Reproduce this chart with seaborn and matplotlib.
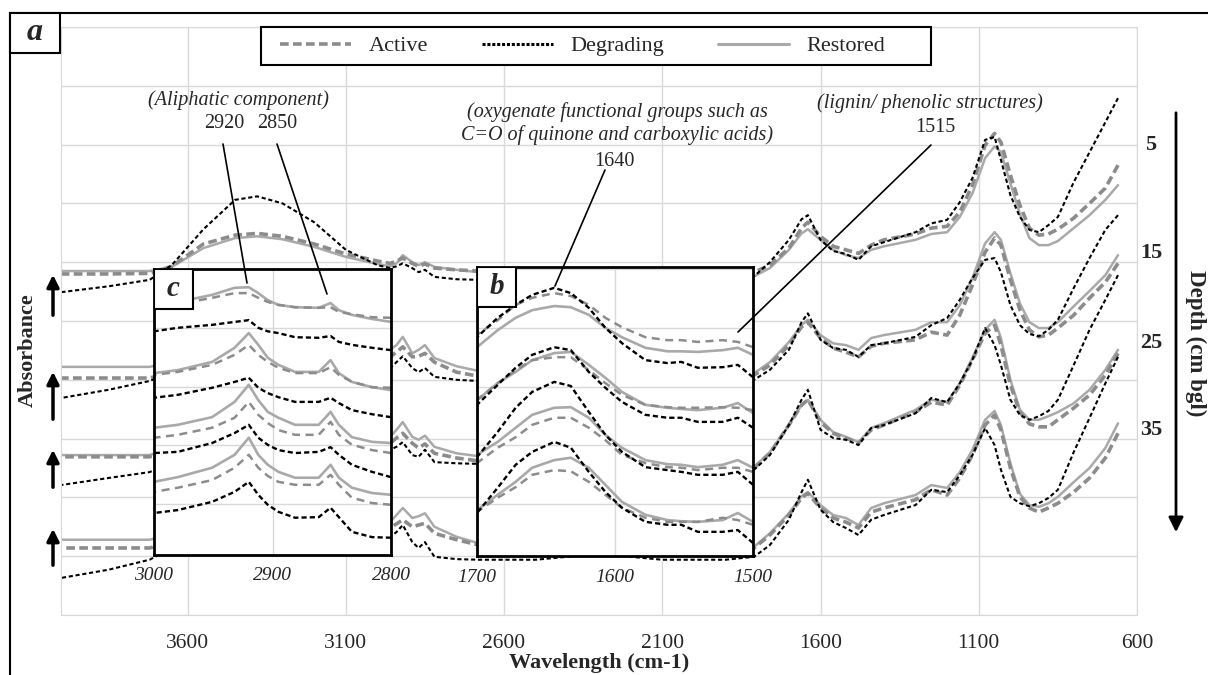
#FTIR spectra by land condition and depth, with zoomed insets
import numpy as np
import pandas as pd
import matplotlib.pyplot as plt
import seaborn as sns
from matplotlib.lines import Line2D
from matplotlib.patches import Rectangle, FancyArrowPatch

#Main spectrum (4000-660 cm-1), stacked by depth
wn_main = [4000, 3850, 3720, 3650, 3550, 3450, 3380, 3300, 3200, 3100,
           3000, 2960, 2940, 2920, 2890, 2870, 2850, 2820, 2750, 2680,
           2500, 2300, 2100, 1900, 1810, 1760, 1700, 1660, 1640, 1600,
           1560, 1520, 1480, 1440, 1400, 1300, 1250, 1200, 1160, 1120,
           1080, 1050, 1030, 1000, 970, 940, 910, 880, 850, 800,
           750, 700, 660]

main_5_active = [0.580, 0.580, 0.581, 0.593, 0.631, 0.646, 0.649, 0.644, 0.631, 0.614,
                 0.602, 0.598, 0.602, 0.607, 0.598, 0.593, 0.597, 0.590, 0.587, 0.585,
                 0.585, 0.585, 0.585, 0.585, 0.583, 0.595, 0.624, 0.658, 0.668, 0.644,
                 0.627, 0.621, 0.615, 0.629, 0.638, 0.648, 0.658, 0.661, 0.685, 0.731,
                 0.799, 0.819, 0.804, 0.748, 0.697, 0.658, 0.646, 0.648, 0.656, 0.675,
                 0.700, 0.726, 0.765]
main_5_degrading = [0.549, 0.559, 0.570, 0.595, 0.656, 0.706, 0.712, 0.700, 0.668, 0.621,
                    0.595, 0.590, 0.593, 0.598, 0.590, 0.583, 0.587, 0.575, 0.571, 0.570,
                    0.570, 0.570, 0.570, 0.573, 0.576, 0.600, 0.638, 0.673, 0.680, 0.638,
                    0.619, 0.614, 0.604, 0.627, 0.634, 0.651, 0.666, 0.672, 0.702, 0.743,
                    0.808, 0.813, 0.774, 0.714, 0.677, 0.655, 0.651, 0.663, 0.677, 0.736,
                    0.787, 0.838, 0.879]
main_5_restored = [0.585, 0.585, 0.585, 0.592, 0.624, 0.641, 0.644, 0.639, 0.626, 0.609,
                   0.597, 0.593, 0.598, 0.612, 0.600, 0.595, 0.600, 0.592, 0.587, 0.583,
                   0.583, 0.583, 0.583, 0.583, 0.576, 0.590, 0.621, 0.649, 0.656, 0.638,
                   0.621, 0.612, 0.607, 0.621, 0.627, 0.638, 0.648, 0.651, 0.677, 0.717,
                   0.777, 0.797, 0.787, 0.734, 0.682, 0.641, 0.629, 0.629, 0.636, 0.658,
                   0.680, 0.706, 0.731]

main_15_active = [0.403, 0.403, 0.403, 0.413, 0.447, 0.464, 0.468, 0.462, 0.451, 0.440,
                  0.437, 0.439, 0.447, 0.456, 0.439, 0.440, 0.445, 0.430, 0.413, 0.406,
                  0.406, 0.406, 0.406, 0.406, 0.408, 0.425, 0.459, 0.490, 0.498, 0.471,
                  0.454, 0.447, 0.439, 0.457, 0.462, 0.468, 0.481, 0.476, 0.510, 0.561,
                  0.617, 0.641, 0.629, 0.570, 0.519, 0.485, 0.473, 0.476, 0.488, 0.510,
                  0.539, 0.566, 0.598]
main_15_degrading = [0.369, 0.383, 0.398, 0.413, 0.459, 0.498, 0.505, 0.495, 0.468, 0.437,
                     0.423, 0.420, 0.430, 0.440, 0.420, 0.413, 0.420, 0.405, 0.400, 0.398,
                     0.398, 0.398, 0.398, 0.398, 0.400, 0.417, 0.451, 0.498, 0.513, 0.468,
                     0.454, 0.451, 0.439, 0.459, 0.462, 0.473, 0.493, 0.505, 0.536, 0.573,
                     0.604, 0.607, 0.583, 0.527, 0.493, 0.478, 0.474, 0.485, 0.502, 0.556,
                     0.607, 0.655, 0.680]
main_15_restored = [0.422, 0.422, 0.422, 0.430, 0.459, 0.476, 0.479, 0.474, 0.462, 0.451,
                    0.447, 0.451, 0.459, 0.473, 0.445, 0.451, 0.459, 0.437, 0.423, 0.415,
                    0.415, 0.415, 0.415, 0.415, 0.411, 0.430, 0.464, 0.493, 0.502, 0.476,
                    0.462, 0.459, 0.451, 0.471, 0.476, 0.485, 0.498, 0.498, 0.527, 0.573,
                    0.632, 0.651, 0.638, 0.581, 0.530, 0.498, 0.488, 0.488, 0.498, 0.525,
                    0.551, 0.578, 0.612]

main_25_active = [0.269, 0.269, 0.269, 0.281, 0.315, 0.332, 0.335, 0.330, 0.318, 0.304,
                  0.298, 0.292, 0.301, 0.309, 0.292, 0.284, 0.291, 0.275, 0.267, 0.262,
                  0.257, 0.257, 0.257, 0.257, 0.250, 0.275, 0.323, 0.357, 0.366, 0.328,
                  0.309, 0.301, 0.292, 0.315, 0.323, 0.345, 0.362, 0.357, 0.391, 0.434,
                  0.479, 0.493, 0.459, 0.391, 0.345, 0.325, 0.320, 0.320, 0.332, 0.352,
                  0.374, 0.408, 0.445]
main_25_degrading = [0.221, 0.233, 0.243, 0.260, 0.306, 0.345, 0.352, 0.342, 0.315, 0.289,
                     0.277, 0.281, 0.286, 0.294, 0.272, 0.269, 0.281, 0.260, 0.258, 0.257,
                     0.253, 0.253, 0.253, 0.253, 0.247, 0.272, 0.323, 0.366, 0.383, 0.315,
                     0.301, 0.298, 0.289, 0.318, 0.323, 0.343, 0.369, 0.362, 0.394, 0.434,
                     0.488, 0.459, 0.425, 0.366, 0.340, 0.332, 0.338, 0.347, 0.366, 0.425,
                     0.485, 0.536, 0.578]
main_25_restored = [0.272, 0.272, 0.272, 0.284, 0.318, 0.335, 0.338, 0.333, 0.321, 0.309,
                    0.304, 0.303, 0.315, 0.328, 0.303, 0.298, 0.305, 0.286, 0.275, 0.270,
                    0.264, 0.264, 0.264, 0.264, 0.252, 0.277, 0.323, 0.357, 0.366, 0.332,
                    0.311, 0.303, 0.294, 0.318, 0.326, 0.349, 0.366, 0.362, 0.394, 0.437,
                    0.485, 0.502, 0.471, 0.400, 0.349, 0.332, 0.332, 0.338, 0.345, 0.360,
                    0.383, 0.417, 0.451]

main_35_active = [0.114, 0.114, 0.114, 0.124, 0.158, 0.175, 0.179, 0.173, 0.162, 0.151,
                  0.148, 0.148, 0.155, 0.162, 0.150, 0.153, 0.156, 0.139, 0.128, 0.119,
                  0.116, 0.116, 0.116, 0.116, 0.114, 0.136, 0.170, 0.199, 0.207, 0.182,
                  0.165, 0.158, 0.148, 0.175, 0.182, 0.196, 0.213, 0.204, 0.233, 0.272,
                  0.323, 0.340, 0.315, 0.250, 0.201, 0.182, 0.175, 0.182, 0.190, 0.209,
                  0.233, 0.267, 0.309]
main_35_degrading = [0.063, 0.077, 0.094, 0.114, 0.162, 0.199, 0.206, 0.196, 0.170, 0.145,
                     0.133, 0.133, 0.141, 0.153, 0.124, 0.114, 0.124, 0.099, 0.095, 0.094,
                     0.094, 0.104, 0.094, 0.094, 0.099, 0.119, 0.162, 0.209, 0.230, 0.179,
                     0.158, 0.148, 0.136, 0.162, 0.170, 0.187, 0.213, 0.209, 0.238, 0.272,
                     0.318, 0.289, 0.247, 0.201, 0.190, 0.185, 0.190, 0.199, 0.213, 0.277,
                     0.335, 0.394, 0.439]
main_35_restored = [0.128, 0.128, 0.128, 0.136, 0.170, 0.187, 0.190, 0.185, 0.173, 0.165,
                    0.162, 0.158, 0.170, 0.182, 0.165, 0.168, 0.173, 0.150, 0.133, 0.122,
                    0.119, 0.119, 0.119, 0.119, 0.116, 0.139, 0.173, 0.202, 0.209, 0.187,
                    0.170, 0.165, 0.153, 0.182, 0.190, 0.204, 0.221, 0.216, 0.243, 0.281,
                    0.332, 0.347, 0.323, 0.258, 0.206, 0.187, 0.184, 0.190, 0.201, 0.226,
                    0.250, 0.284, 0.326]

#Inset c: aliphatic region 3000-2800 cm-1
wn_c = [3000, 2980, 2951, 2932, 2920, 2912, 2904, 2895, 2881, 2861, 2851, 2844, 2833, 2816, 2800]
c_5_active = [0.435, 0.440, 0.451, 0.459, 0.459, 0.451, 0.444, 0.439, 0.435, 0.434, 0.435, 0.427, 0.423, 0.418, 0.417]
c_5_degrading = [0.394, 0.400, 0.405, 0.410, 0.413, 0.400, 0.394, 0.391, 0.384, 0.383, 0.386, 0.376, 0.371, 0.366, 0.362]
c_5_restored = [0.435, 0.444, 0.456, 0.468, 0.469, 0.459, 0.447, 0.439, 0.435, 0.434, 0.442, 0.430, 0.422, 0.415, 0.410]
c_15_active = [0.320, 0.325, 0.337, 0.354, 0.371, 0.354, 0.342, 0.332, 0.323, 0.323, 0.333, 0.320, 0.308, 0.299, 0.298]
c_15_degrading = [0.281, 0.286, 0.298, 0.308, 0.315, 0.298, 0.289, 0.282, 0.274, 0.274, 0.281, 0.272, 0.260, 0.253, 0.248]
c_15_restored = [0.323, 0.328, 0.342, 0.366, 0.391, 0.371, 0.349, 0.337, 0.325, 0.325, 0.345, 0.323, 0.308, 0.299, 0.294]
c_25_active = [0.213, 0.218, 0.230, 0.247, 0.274, 0.252, 0.238, 0.226, 0.218, 0.218, 0.240, 0.218, 0.201, 0.192, 0.187]
c_25_degrading = [0.187, 0.189, 0.204, 0.221, 0.235, 0.213, 0.201, 0.192, 0.187, 0.189, 0.197, 0.184, 0.167, 0.155, 0.146]
c_25_restored = [0.230, 0.235, 0.248, 0.274, 0.303, 0.277, 0.257, 0.247, 0.235, 0.235, 0.257, 0.235, 0.214, 0.206, 0.204]
c_35_active = [0.121, 0.128, 0.141, 0.162, 0.184, 0.162, 0.148, 0.138, 0.133, 0.133, 0.150, 0.133, 0.111, 0.102, 0.099]
c_35_degrading = [0.085, 0.090, 0.104, 0.121, 0.138, 0.116, 0.099, 0.087, 0.077, 0.078, 0.094, 0.078, 0.053, 0.044, 0.043]
c_35_restored = [0.138, 0.146, 0.162, 0.184, 0.213, 0.184, 0.167, 0.155, 0.145, 0.145, 0.167, 0.145, 0.128, 0.119, 0.116]

#Inset b: carbonyl / aromatic region 1700-1500 cm-1
wn_b = [1700, 1685, 1672, 1660, 1644, 1632, 1619, 1607, 1595, 1578, 1562, 1552, 1540, 1522, 1511, 1500]
b_5_active = [0.388, 0.413, 0.439, 0.451, 0.459, 0.454, 0.439, 0.417, 0.401, 0.384, 0.379, 0.379, 0.376, 0.379, 0.376, 0.367]
b_5_degrading = [0.384, 0.417, 0.439, 0.456, 0.468, 0.459, 0.434, 0.400, 0.374, 0.345, 0.340, 0.342, 0.332, 0.333, 0.337, 0.316]
b_5_restored = [0.367, 0.396, 0.417, 0.430, 0.437, 0.435, 0.422, 0.400, 0.384, 0.366, 0.360, 0.360, 0.359, 0.362, 0.366, 0.354]
b_15_active = [0.277, 0.306, 0.328, 0.345, 0.350, 0.350, 0.328, 0.306, 0.286, 0.269, 0.265, 0.264, 0.264, 0.265, 0.264, 0.260]
b_15_degrading = [0.269, 0.303, 0.332, 0.354, 0.367, 0.362, 0.325, 0.298, 0.274, 0.252, 0.247, 0.247, 0.240, 0.240, 0.247, 0.230]
b_15_restored = [0.277, 0.306, 0.325, 0.345, 0.357, 0.359, 0.337, 0.315, 0.291, 0.269, 0.264, 0.262, 0.260, 0.264, 0.272, 0.255]
b_25_active = [0.170, 0.196, 0.214, 0.235, 0.247, 0.247, 0.230, 0.209, 0.184, 0.170, 0.163, 0.162, 0.158, 0.162, 0.162, 0.155]
b_25_degrading = [0.180, 0.223, 0.264, 0.291, 0.308, 0.301, 0.257, 0.218, 0.189, 0.163, 0.158, 0.155, 0.150, 0.150, 0.155, 0.133]
b_25_restored = [0.184, 0.206, 0.230, 0.252, 0.264, 0.265, 0.247, 0.218, 0.196, 0.175, 0.168, 0.167, 0.163, 0.167, 0.175, 0.162]
b_35_active = [0.087, 0.111, 0.129, 0.150, 0.158, 0.156, 0.138, 0.116, 0.094, 0.077, 0.070, 0.070, 0.070, 0.077, 0.073, 0.065]
b_35_degrading = [0.085, 0.128, 0.167, 0.189, 0.206, 0.196, 0.155, 0.121, 0.094, 0.070, 0.065, 0.065, 0.053, 0.053, 0.056, 0.034]
b_35_restored = [0.090, 0.116, 0.138, 0.162, 0.175, 0.179, 0.162, 0.133, 0.104, 0.082, 0.073, 0.071, 0.070, 0.073, 0.085, 0.070]

treatments = ["Active", "Degrading", "Restored"]
depth_labels = ["5", "15", "25", "35"]
main_ticks = [3600, 3100, 2600, 2100, 1600, 1100, 600]


def long_table(wn, spectra):
    frames = []
    for depth, values in spectra.items():
        for treatment, vals in zip(treatments, values):
            frames.append(pd.DataFrame({"wavenumber": wn, "absorbance": vals,
                                        "depth": depth, "treatment": treatment}))
    return pd.concat(frames, ignore_index=True)


main = long_table(wn_main, {5: (main_5_active, main_5_degrading, main_5_restored),
                            15: (main_15_active, main_15_degrading, main_15_restored),
                            25: (main_25_active, main_25_degrading, main_25_restored),
                            35: (main_35_active, main_35_degrading, main_35_restored)})
inset_c = long_table(wn_c, {5: (c_5_active, c_5_degrading, c_5_restored),
                            15: (c_15_active, c_15_degrading, c_15_restored),
                            25: (c_25_active, c_25_degrading, c_25_restored),
                            35: (c_35_active, c_35_degrading, c_35_restored)})
inset_b = long_table(wn_b, {5: (b_5_active, b_5_degrading, b_5_restored),
                            15: (b_15_active, b_15_degrading, b_15_restored),
                            25: (b_25_active, b_25_degrading, b_25_restored),
                            35: (b_35_active, b_35_degrading, b_35_restored)})

sns.set_style("white")
plt.rcParams["font.family"] = ["Liberation Serif", "DejaVu Serif"]

palette = {"Active": "#8c8c8c", "Degrading": "black", "Restored": "#a9a9a9"}
draw_order = ["Restored", "Active", "Degrading"]
grid_col = "#d9d9d9"

W, H = 1208, 675
fig = plt.figure(figsize=(W / 100, H / 100), dpi=100)


def fxy(px, py):
    return px / W, 1 - py / H


def spectra(ax, data, dashes, widths):
    sns.lineplot(data=data, x="wavenumber", y="absorbance", hue="treatment",
                 style="treatment", size="treatment", units="depth", estimator=None,
                 hue_order=draw_order, style_order=draw_order, size_order=draw_order,
                 palette=palette, dashes=dashes, sizes=widths, legend=False, ax=ax)
    ax.set_xlabel("")
    ax.set_ylabel("")


#Main plot
ax = fig.add_axes([61 / W, 1 - 615 / H, 1076 / W, 588 / H])
spectra(ax, main, {"Active": (2.4, 1.2), "Degrading": (2.0, 1.3), "Restored": ""},
        {"Active": 2.6, "Degrading": 1.5, "Restored": 1.8})
ax.set_xlim(4000, 600)
ax.set_ylim(0, 1)
ax.set_xticks(main_ticks)
ax.set_yticks(np.arange(0, 1.01, 0.1))
ax.grid(True, color=grid_col, lw=1)
ax.tick_params(length=0, labelleft=False, labelsize=15.5, pad=14)
for s in ax.spines.values():
    s.set_color(grid_col)

#Insets
inset_dashes = {"Active": (3.2, 2.2), "Degrading": (2.2, 1.3), "Restored": ""}
inset_widths = {"Active": 1.8, "Degrading": 1.7, "Restored": 1.9}
for box, data, lims, letter in [((154, 269, 391, 555), inset_c, (3000, 2900, 2800), "c"),
                                ((477, 267, 753, 556), inset_b, (1700, 1600, 1500), "b")]:
    x0, y0, x1, y1 = box
    axi = fig.add_axes([x0 / W, 1 - y1 / H, (x1 - x0) / W, (y1 - y0) / H])
    axi.set_facecolor("white")
    spectra(axi, data, inset_dashes, inset_widths)
    axi.set_xlim(lims[0], lims[2])
    axi.set_ylim((563 - y1) / 588, (563 - y0) / 588)
    axi.set_xticks(lims, labels=[str(v) for v in lims], fontstyle="italic", fontsize=14)
    axi.set_yticks(np.arange(0.1, 0.51, 0.1))
    axi.grid(True, color=grid_col, lw=1)
    axi.tick_params(axis="x", direction="out", length=4, width=1.5, pad=5)
    axi.tick_params(axis="y", length=0, labelleft=False)
    for s in axi.spines.values():
        s.set_color("black")
        s.set_linewidth(2)
    bw, bh = 39 / (x1 - x0), 40 / (y1 - y0)
    axi.add_patch(Rectangle((0, 1 - bh), bw, bh, transform=axi.transAxes,
                            facecolor="white", edgecolor="black", lw=1.5, zorder=5))
    axi.text(bw / 2, 1 - bh / 2, letter, transform=axi.transAxes, ha="center", va="center",
             fontsize=21, fontweight="bold", fontstyle="italic", zorder=6)

#Legend (frame drawn separately so it keeps the wide box)
fig.add_artist(Rectangle((261 / W, 1 - 65 / H), 670 / W, 38 / H, facecolor="white",
                         edgecolor="black", lw=1.5, transform=fig.transFigure, zorder=4))
handles = [Line2D([], [], color=palette["Active"], lw=2.6, dashes=(2.4, 1.2)),
           Line2D([], [], color="black", lw=2.2, dashes=(1.0, 0.6)),
           Line2D([], [], color=palette["Restored"], lw=2.2)]
leg = fig.legend(handles, treatments, loc="center left", bbox_to_anchor=fxy(280, 46),
                 ncol=3, frameon=False, fontsize=16, handlelength=3.2, handletextpad=0.8,
                 columnspacing=2.4, borderpad=0, borderaxespad=0)
leg.set_zorder(5)

#Frame and panel letter
fig.add_artist(Rectangle((10 / W, -0.05), 1.1, 1.05 - 13 / H, fill=False, lw=1.5,
                         edgecolor="black", transform=fig.transFigure))
fig.add_artist(Rectangle((10 / W, 1 - 53 / H), 50 / W, 40 / H, facecolor="white",
                         edgecolor="black", lw=1.5, transform=fig.transFigure))
fig.text(*fxy(35, 33), "a", ha="center", va="center", fontsize=23,
         fontweight="bold", fontstyle="italic")

#Axis titles
fig.text(*fxy(599, 663), "Wavelength (cm-1)", ha="center", va="center", fontsize=16, fontweight="bold")
fig.text(*fxy(28, 350), "Absorbance", ha="center", va="center", rotation=90,
         fontsize=16, fontweight="bold")

#Band annotations
fig.text(*fxy(238, 100), "(Aliphatic component)", ha="center", va="center", fontsize=14.5, fontstyle="italic")
fig.text(*fxy(224, 124), "2920", ha="center", va="center", fontsize=14.5)
fig.text(*fxy(277, 124), "2850", ha="center", va="center", fontsize=14.5)
fig.text(*fxy(617, 112), "(oxygenate functional groups such as", ha="center", va="center",
         fontsize=14.5, fontstyle="italic")
fig.text(*fxy(617, 135), "C=O of quinone and carboxylic acids)", ha="center", va="center",
         fontsize=14.5, fontstyle="italic")
fig.text(*fxy(614, 162), "1640", ha="center", va="center", fontsize=14.5)
fig.text(*fxy(930, 103), "(lignin/ phenolic structures)", ha="center", va="center",
         fontsize=14.5, fontstyle="italic")
fig.text(*fxy(935, 127), "1515", ha="center", va="center", fontsize=14.5)
for (xa, ya), (xb, yb) in [((223, 144), (247, 283)), ((277, 144), (327, 294)),
                           ((605, 170), (555, 286)), ((931, 145), (738, 332))]:
    (u0, v0), (u1, v1) = fxy(xa, ya), fxy(xb, yb)
    fig.add_artist(Line2D([u0, u1], [v0, v1], color="black", lw=1.2))

#Depth scale on the right
for lab, py in zip(depth_labels, [145, 253, 343, 430]):
    fig.text(*fxy(1151, py), lab, ha="center", va="center", fontsize=16, fontweight="bold")
fig.add_artist(FancyArrowPatch(fxy(1176, 110), fxy(1176, 535), transform=fig.transFigure,
                               arrowstyle="-|>", mutation_scale=22, lw=2, color="black"))
fig.text(*fxy(1196, 343), "Depth (cm bgl)", ha="center", va="center", rotation=270,
         fontsize=16.5, fontweight="bold")

#Absorbance arrows at the left of each depth
for tail, tip in [(318, 272), (422, 369), (490, 447), (568, 526)]:
    fig.add_artist(FancyArrowPatch(fxy(53, tail), fxy(53, tip), transform=fig.transFigure,
                                   arrowstyle="-|>", mutation_scale=18, lw=2.5, color="black"))

plt.savefig("out.png", dpi=100)
